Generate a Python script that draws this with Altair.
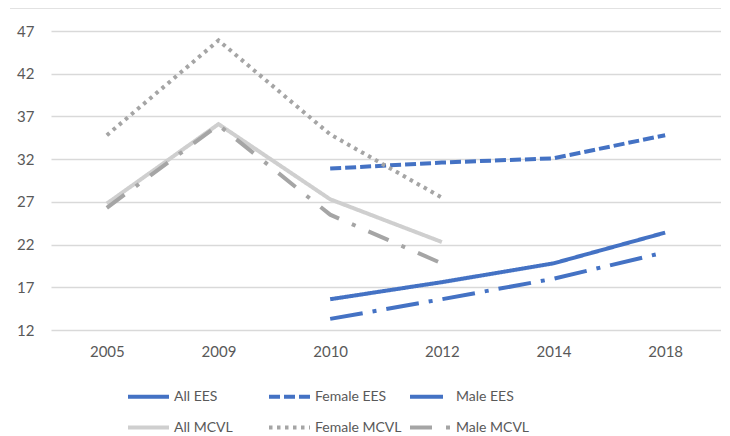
import altair as alt
import pandas as pd

years = ["2005", "2009", "2010", "2012", "2014", "2018"]
series_names = ["All EES", "Female EES", "Male EES", "All MCVL", "Female MCVL", "Male MCVL"]

all_ees_years = ["2010", "2012", "2014", "2018"]
all_ees = [15.6, 17.6, 19.8, 23.4]
female_ees_years = ["2010", "2012", "2014", "2018"]
female_ees = [30.9, 31.6, 32.1, 34.8]
male_ees_years = ["2010", "2012", "2014", "2018"]
male_ees = [13.3, 15.6, 18.0, 21.1]
all_mcvl_years = ["2005", "2009", "2010", "2012"]
all_mcvl = [26.8, 36.1, 27.3, 22.3]
female_mcvl_years = ["2005", "2009", "2010", "2012"]
female_mcvl = [34.8, 45.9, 34.9, 27.5]
male_mcvl_years = ["2005", "2009", "2010", "2012"]
male_mcvl = [26.3, 36.0, 25.5, 19.8]

y_ticks = [12, 17, 22, 27, 32, 37, 42, 47]

colors = ["#4472C4", "#4472C4", "#4472C4", "#CFCFCF", "#A5A5A5", "#A5A5A5"]
dashes = [[1, 0], [11, 4], [33, 10, 4, 10], [1, 0], [3.5, 4.5], [22, 14, 4, 14]]

rows = []
for name, ys, vals in [
    ("All EES", all_ees_years, all_ees),
    ("Female EES", female_ees_years, female_ees),
    ("Male EES", male_ees_years, male_ees),
    ("All MCVL", all_mcvl_years, all_mcvl),
    ("Female MCVL", female_mcvl_years, female_mcvl),
    ("Male MCVL", male_mcvl_years, male_mcvl),
]:
    for yr, v in zip(ys, vals):
        rows.append({"year": yr, "value": v, "series": name})
df = pd.DataFrame(rows)

font = "Lato"
text_color = "#595959"

lines = alt.Chart(df).mark_line(strokeWidth=4, strokeCap="butt").encode(
    x=alt.X("year:O", sort=years, scale=alt.Scale(type="point", padding=0.5, domain=years),
            axis=alt.Axis(title=None, labelAngle=0, domain=False, ticks=False, labelPadding=14,
                          labelFontSize=15, labelColor=text_color, labelFont=font, grid=False)),
    y=alt.Y("value:Q", scale=alt.Scale(domain=[12, 47], nice=False, zero=False),
            axis=alt.Axis(title=None, values=y_ticks, domain=False, ticks=False, labelPadding=17,
                          labelFontSize=15, labelColor=text_color, labelFont=font,
                          grid=True, gridColor="#D9D9D9", gridWidth=1.5)),
    color=alt.Color("series:N", sort=series_names,
                    scale=alt.Scale(domain=series_names, range=colors),
                    legend=alt.Legend(title=None)),
    strokeDash=alt.StrokeDash("series:N", sort=series_names,
                              scale=alt.Scale(domain=series_names, range=dashes),
                              legend=alt.Legend(title=None)),
    detail="series:N",
)

top_rule = alt.Chart(pd.DataFrame({"a": [0]})).mark_rule(color="#D9D9D9", strokeWidth=1.5).encode(
    x=alt.value(-41), x2=alt.value(690), y=alt.value(-23)
)

chart = alt.layer(top_rule, lines).properties(
    width=670, height=299,
    autosize=alt.AutoSizeParams(type="none"),
    padding={"left": 43, "top": 23, "right": 0, "bottom": 106},
).configure_view(stroke=None).configure_legend(
    orient="none", legendX=75, legendY=343, columns=3, direction="horizontal",
    symbolType="stroke", symbolSize=1681, symbolStrokeWidth=4,
    labelFontSize=14, labelFont=font, labelColor=text_color, labelOffset=3,
    rowPadding=-5, columnPadding=0, gridAlign="all", padding=0,
)

chart.save("out.html", embed_options={"renderer": "svg", "actions": False})
